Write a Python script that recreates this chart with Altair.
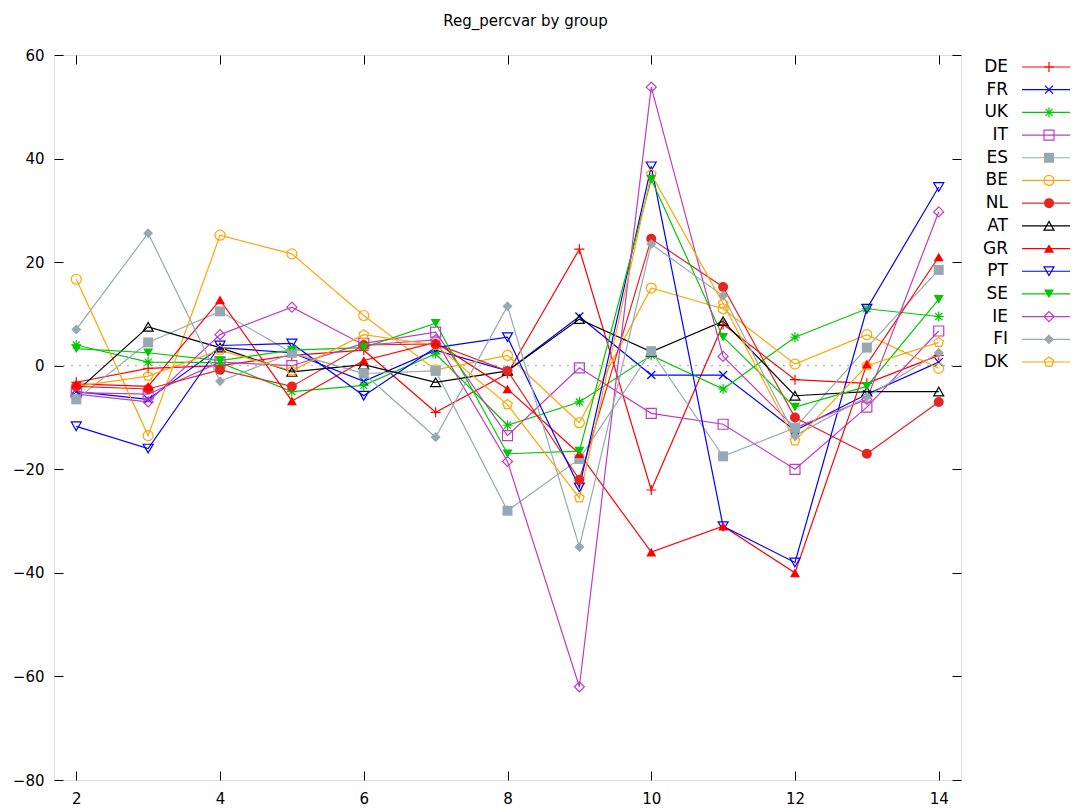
import altair as alt
import pandas as pd

x_vals = [2, 3, 4, 5, 6, 7, 8, 9, 10, 11, 12, 13, 14]
names = ["DE", "FR", "UK", "IT", "ES", "BE", "NL", "AT", "GR", "PT", "SE", "IE", "FI", "DK"]

DE = [-3.2, -0.5, 0.0, 2.0, 3.0, -9.0, -1.5, 22.5, -24.0, 8.0, -2.7, -3.4, 2.0]
FR = [-5.0, -6.5, 3.5, 2.5, -3.0, 3.0, -1.0, 9.5, -1.8, -1.8, -12.5, -5.5, 0.7]
UK = [4.0, 0.7, 0.6, -5.0, -3.8, 2.3, -11.5, -7.0, 2.0, -4.5, 5.5, 11.0, 9.5]
IT = [-5.2, -5.5, 0.7, 0.0, 4.3, 6.5, -13.5, -0.4, -9.2, -11.3, -20.0, -8.0, 6.7]
ES = [-6.5, 4.5, 10.5, 2.5, -1.5, -1.0, -28.0, -18.0, 2.8, -17.5, -12.0, 3.5, 18.5]
BE = [16.7, -13.5, 25.2, 21.6, 9.7, -0.8, 2.0, -11.0, 15.0, 11.0, 0.3, 6.0, -0.5]
NL = [-4.0, -4.5, -0.8, -4.0, 4.0, 4.2, -1.0, -22.0, 24.5, 15.2, -10.0, -17.0, -7.0]
AT = [-5.0, 7.5, 3.5, -1.2, 0.2, -3.2, -1.0, 9.0, 2.7, 8.6, -5.8, -5.0, -5.0]
GR = [-3.5, -4.0, 12.7, -6.8, 1.0, 4.5, -4.5, -17.0, -36.0, -31.0, -40.0, 0.3, 21.0]
PT = [-11.7, -16.0, 3.9, 4.3, -5.8, 3.5, 5.5, -23.5, 38.5, -31.0, -38.0, 11.0, 34.5]
SE = [3.3, 2.5, 1.0, 3.0, 3.5, 8.2, -17.0, -16.5, 36.0, 5.5, -8.0, -4.0, 12.8]
IE = [-5.5, -7.0, 6.0, 11.3, 4.0, 5.0, -18.5, -62.0, 53.8, 1.8, -12.0, -6.5, 29.7]
FI = [7.0, 25.6, -3.0, 2.4, -1.5, -13.8, 11.5, -35.0, 23.5, 13.5, -13.5, -6.0, 2.5]
DK = [-4.0, -2.0, 3.0, -1.0, 6.0, 4.0, -7.5, -25.5, 37.0, 12.0, -14.5, 0.0, 4.5]

series = {"DE": DE, "FR": FR, "UK": UK, "IT": IT, "ES": ES, "BE": BE, "NL": NL,
          "AT": AT, "GR": GR, "PT": PT, "SE": SE, "IE": IE, "FI": FI, "DK": DK}

RED, BLUE, GREEN, MAG, GRAY, ORANGE, NLRED, BLACK = (
    "#ff0000", "#0000ff", "#00c800", "#c03cc0", "#96a8b2", "#ffa500", "#e52520", "#000000")
colors = [RED, BLUE, GREEN, MAG, GRAY, ORANGE, NLRED, BLACK, RED, BLUE, GREEN, MAG, GRAY, ORANGE]

PLUS = "M-1,0H1M0,-1V1"
CROSS = "M-0.8,-0.8L0.8,0.8M-0.8,0.8L0.8,-0.8"
STAR = "M-1,0H1M0,-1V1M-0.7,-0.7L0.7,0.7M-0.7,0.7L0.7,-0.7"
PENTA = "M0,-1L0.951,-0.309L0.588,0.809L-0.588,0.809L-0.951,-0.309Z"
shapes = [PLUS, CROSS, STAR, "square", "square", "circle", "circle", "triangle-up",
          "triangle-up", "triangle-down", "triangle-down", "diamond", "diamond", PENTA]
filled_names = ["ES", "NL", "GR", "SE", "FI"]
open_names = [n for n in names if n not in filled_names]

rows = []
for n in names:
    for x, v in zip(x_vals, series[n]):
        rows.append({"name": n, "x": x, "v": v})
df = pd.DataFrame(rows)
legend_df = pd.DataFrame({"name": names})

FONT = "DejaVu Sans"
color_scale = alt.Scale(domain=names, range=colors)
shape_scale = alt.Scale(domain=names, range=shapes)
xs = alt.Scale(domain=[1.69, 14.31], nice=False, zero=False)
ys = alt.Scale(domain=[-80, 60], nice=False, zero=False)
col = alt.Color("name:N", scale=color_scale, legend=None)
shp = alt.Shape("name:N", scale=shape_scale, legend=None)

def xaxis(orient, labels):
    return alt.Axis(orient=orient, values=[2, 4, 6, 8, 10, 12, 14], offset=-9, tickSize=9,
                    domain=False, grid=False, labels=labels, labelPadding=11, title=None,
                    tickColor="black", tickWidth=1, labelColor="black", labelFont=FONT,
                    labelFontSize=15)

def yaxis(orient, labels):
    return alt.Axis(orient=orient, values=[-80, -60, -40, -20, 0, 20, 40, 60], offset=-9,
                    tickSize=9, domain=False, grid=False, labels=labels, labelPadding=10,
                    title=None, tickColor="black", tickWidth=1, labelColor="black",
                    labelFont=FONT, labelFontSize=15)

zero = alt.Chart(pd.DataFrame({"v": [0]})).mark_rule(
    strokeDash=[2, 6], color="#a0a0a0", strokeWidth=1).encode(
    y=alt.Y("v:Q", scale=ys, axis=None))

lines = alt.Chart(df).mark_line(strokeWidth=1.2, clip=True).encode(
    x=alt.X("x:Q", scale=xs, axis=xaxis("bottom", True)),
    y=alt.Y("v:Q", scale=ys, axis=yaxis("left", True)),
    color=col, detail="name:N", order="x:Q")

pts_open = alt.Chart(df).transform_filter(
    alt.FieldOneOfPredicate(field="name", oneOf=open_names)).mark_point(
    filled=False, size=100, strokeWidth=1.2, opacity=1).encode(
    x=alt.X("x:Q", scale=xs, axis=xaxis("top", False)),
    y=alt.Y("v:Q", scale=ys, axis=yaxis("right", False)),
    color=col, shape=shp)

pts_fill = alt.Chart(df).transform_filter(
    alt.FieldOneOfPredicate(field="name", oneOf=filled_names)).mark_point(
    filled=True, size=100, opacity=1).encode(
    x=alt.X("x:Q", scale=xs, axis=None),
    y=alt.Y("v:Q", scale=ys, axis=None),
    color=col, shape=shp)

ly = alt.Y("name:N", scale=alt.Scale(type="point", domain=names, range=[12, 307], padding=0), axis=None)
leg_text = alt.Chart(legend_df).mark_text(align="right", baseline="middle", fontSize=17,
                                          font=FONT, color="black").encode(
    x=alt.value(954), y=ly, text="name:N")
leg_rule = alt.Chart(legend_df).mark_rule(strokeWidth=1.2).encode(
    x=alt.value(968), x2=alt.value(1016), y=ly, color=col)
leg_open = alt.Chart(legend_df).transform_filter(
    alt.FieldOneOfPredicate(field="name", oneOf=open_names)).mark_point(
    filled=False, size=100, strokeWidth=1.2, opacity=1).encode(
    x=alt.value(995), y=ly, color=col, shape=shp)
leg_fill = alt.Chart(legend_df).transform_filter(
    alt.FieldOneOfPredicate(field="name", oneOf=filled_names)).mark_point(
    filled=True, size=100, opacity=1).encode(
    x=alt.value(995), y=ly, color=col, shape=shp)

chart = alt.layer(zero, lines, pts_open, pts_fill, leg_rule, leg_text, leg_open, leg_fill).resolve_scale(
    x="independent", y="independent").properties(
    width=907, height=725,
    title=alt.Title("Reg_percvar by group", fontSize=15, font=FONT, fontWeight="normal",
                    color="black", offset=19, dx=18),
    autosize=alt.AutoSizeParams(type="none"),
    padding={"left": 46, "top": 47, "right": 110, "bottom": 30},
).configure_view(stroke="black", strokeWidth=1.2).configure(background="white")

chart.save("out.html", embed_options={"renderer": "svg", "actions": False})
